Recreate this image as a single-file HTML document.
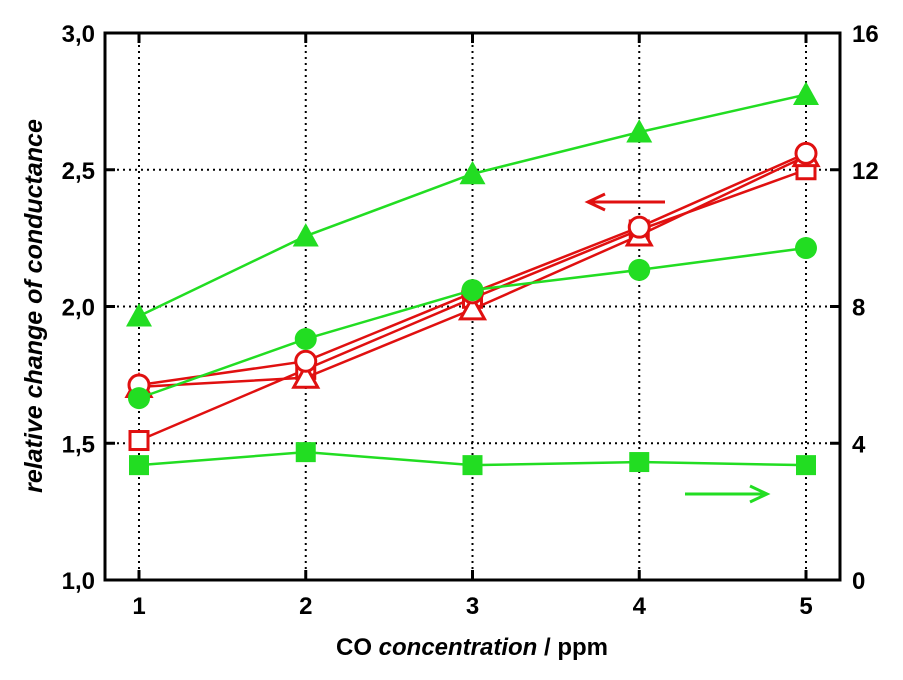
<!DOCTYPE html>
<html><head><meta charset="utf-8"><style>
html,body{margin:0;padding:0;background:#fff;}
svg text{font-family:"Liberation Sans",Arial,sans-serif;font-weight:bold;}
</style></head><body>
<svg id="chart" width="903" height="675" viewBox="0 0 903 675" xmlns="http://www.w3.org/2000/svg"></svg>
<script>
const categories=[1,2,3,4,5];
const leftTicks=["1,0","1,5","2,0","2,5","3,0"];
const leftTickVals=[1.0,1.5,2.0,2.5,3.0];
const rightTicks=["0","4","8","12","16"];
const rightTickVals=[0,4,8,12,16];
const redCircle=[1.713,1.80,2.05,2.29,2.56];
const redTriangle=[1.706,1.74,1.99,2.26,2.55];
const redSquare=[1.51,1.77,2.03,2.28,2.50];
const greenTriangle=[7.72,10.06,11.88,13.1,14.2];
const greenCircle=[5.32,7.05,8.48,9.07,9.71];
const greenSquare=[3.36,3.74,3.36,3.45,3.36];

const svg=document.getElementById('chart');
const NS='http://www.w3.org/2000/svg';
const L=105,R=840,T=33,B=580;
const xs=v=>139+(v-1)*166.75;
const yl=v=>B-(v-1)*(B-T)/2;
const yr=v=>B-v*(B-T)/16;
function mk(tag,attrs,parent){const e=document.createElementNS(NS,tag);for(const k in attrs)e.setAttribute(k,attrs[k]);(parent||svg).appendChild(e);return e;}

categories.forEach((c,i)=>{const g=mk('line',{x1:xs(c),x2:xs(c),y1:T,y2:B,stroke:'#000','stroke-width':2,'stroke-dasharray':'2,4'});

});
leftTickVals.slice(1,4).forEach(v=>{const g=mk('line',{x1:L,x2:R,y1:yl(v),y2:yl(v),stroke:'#000','stroke-width':2,'stroke-dasharray':'2,4'});

});
const frame=mk('rect',{x:L,y:T,width:R-L,height:B-T,fill:'none',stroke:'#000','stroke-width':3});



categories.forEach(c=>{mk('line',{x1:xs(c),x2:xs(c),y1:B,y2:B-10,stroke:'#000','stroke-width':3});mk('line',{x1:xs(c),x2:xs(c),y1:T,y2:T+10,stroke:'#000','stroke-width':3});
const t=mk('text',{x:xs(c),y:B+34,'font-size':24,'text-anchor':'middle'});t.textContent=c;

});
leftTickVals.forEach((v,i)=>{mk('line',{x1:L,x2:L+10,y1:yl(v),y2:yl(v),stroke:'#000','stroke-width':3});
const t=mk('text',{x:L-10,y:yl(v)+9,'font-size':24,'text-anchor':'end'});t.textContent=leftTicks[i];

});
rightTickVals.forEach((v,i)=>{mk('line',{x1:R-10,x2:R,y1:yr(v),y2:yr(v),stroke:'#000','stroke-width':3});
const t=mk('text',{x:R+12,y:yr(v)+9,'font-size':24,'text-anchor':'start'});t.textContent=rightTicks[i];

});

const xt=mk('text',{x:472,y:655,'font-size':24,'text-anchor':'middle'});
xt.innerHTML='CO <tspan font-style="italic">concentration</tspan> / ppm';


const yt=mk('text',{x:0,y:0,'font-size':25,'text-anchor':'middle','font-style':'italic',transform:'translate(42,306) rotate(-90)'});
yt.textContent='relative change of conductance';



function series(vals,yf,color,shape,filled,name){
  const pts=categories.map((c,i)=>[xs(c),yf(vals[i])]);
  const pl=mk('polyline',{points:pts.map(p=>p.join(',')).join(' '),fill:'none',stroke:color,'stroke-width':2.5});
  
  
  pts.forEach(p=>{
    const a={fill:filled?color:'#fff',stroke:color,'stroke-width':filled?0:3};
    let m;
    if(shape==='c') m=mk('circle',Object.assign({cx:p[0],cy:p[1],r:filled?11:10},a));
    else if(shape==='s') m=mk('rect',Object.assign({x:p[0]-(filled?10:9),y:p[1]-(filled?10:9),width:filled?20:18,height:filled?20:18},a));
    else {const s=filled?13:12;m=mk('polygon',Object.assign({points:`${p[0]},${p[1]-s} ${p[0]-s},${p[1]+s*0.8} ${p[0]+s},${p[1]+s*0.8}`},a));}
    
    
  });
}
series(greenSquare,yr,'#22dd22','s',true,'green-square');
series(greenTriangle,yr,'#22dd22','t',true,'green-triangle');
series(redSquare,yl,'#e01010','s',false,'red-square');
series(redTriangle,yl,'#e01010','t',false,'red-triangle');
series(redCircle,yl,'#e01010','c',false,'red-circle');
series(greenCircle,yr,'#22dd22','c',true,'green-circle');

const ra=mk('g',{});
mk('line',{x1:665,x2:590,y1:202,y2:202,stroke:'#e01010','stroke-width':3},ra);
mk('polyline',{points:'605,194 588,202 605,210',fill:'none',stroke:'#e01010','stroke-width':3},ra);
const ga=mk('g',{});
mk('line',{x1:685,x2:765,y1:494,y2:494,stroke:'#22dd22','stroke-width':3},ga);
mk('polyline',{points:'750,486 767,494 750,502',fill:'none',stroke:'#22dd22','stroke-width':3},ga);
</script>
</body></html>
